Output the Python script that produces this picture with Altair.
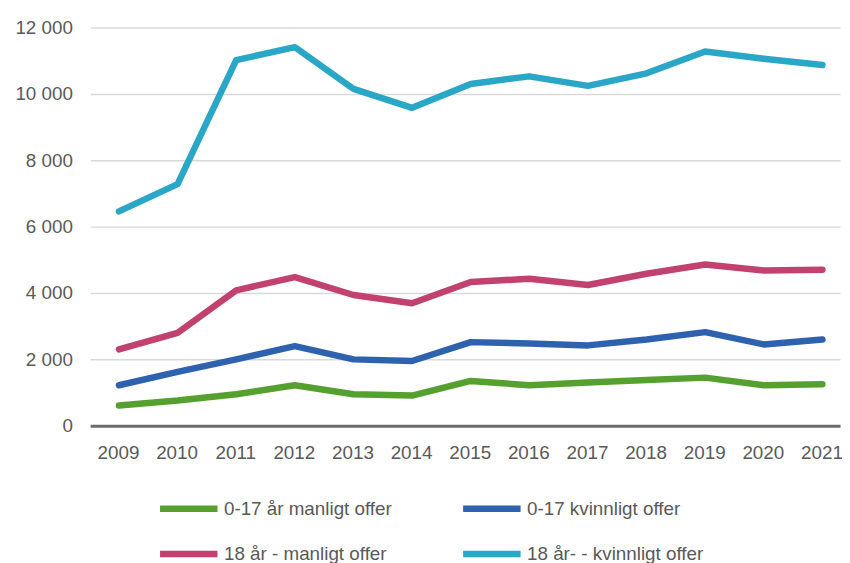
import altair as alt
import pandas as pd

years = list(range(2009, 2022))
series_names = ["0-17 år manligt offer", "0-17 kvinnligt offer",
                "18 år - manligt offer", "18 år- - kvinnligt offer"]
colors = ["#55A02F", "#2E62AE", "#C1416F", "#2AA6C6"]

green = [610, 760, 950, 1220, 950, 910, 1350, 1220, 1300, 1380, 1450, 1220, 1250]
blue = [1220, 1620, 2000, 2400, 2000, 1950, 2520, 2480, 2420, 2600, 2820, 2450, 2600]
pink = [2300, 2800, 4080, 4480, 3940, 3690, 4330, 4430, 4240, 4580, 4860, 4680, 4700]
cyan = [6460, 7280, 11020, 11410, 10150, 9580, 10300, 10530, 10240, 10620, 11280, 11060, 10870]

rows = []
for name, vals in zip(series_names, [green, blue, pink, cyan]):
    for y, v in zip(years, vals):
        rows.append({"År": y, "Antal": v, "Serie": name})
df = pd.DataFrame(rows)

chart = alt.Chart(df).mark_line(strokeWidth=6.5, strokeCap="round", strokeJoin="round").encode(
    x=alt.X("År:Q", scale=alt.Scale(domain=[2008.51, 2021.3], nice=False, zero=False),
            axis=alt.Axis(values=years, format="d", title=None, grid=False, ticks=False,
                          domainColor="#6b6b6b", domainWidth=3, labelColor="#595959",
                          labelFontSize=19, labelFont="Liberation Sans", labelPadding=18,
                          labelFlush=False, labelOffset=-1)),
    y=alt.Y("Antal:Q", scale=alt.Scale(domain=[0, 12000], nice=False),
            axis=alt.Axis(values=[0, 2000, 4000, 6000, 8000, 10000, 12000], format=",d",
                          title=None, domain=False, ticks=False, gridColor="#D9D9D9",
                          gridWidth=1.5, labelColor="#595959", labelFontSize=19,
                          labelFont="Liberation Sans", labelPadding=18,
                          labelExpr="replace(datum.label, ',', ' ')")),
    color=alt.Color("Serie:N", scale=alt.Scale(domain=series_names, range=colors),
                    legend=alt.Legend(title=None, orient="none", legendX=67, legendY=453,
                                      direction="horizontal", columns=2,
                                      symbolType="stroke", symbolSize=3364,
                                      symbolStrokeWidth=6.5, labelFontSize=19,
                                      labelFont="Liberation Sans", labelColor="#595959",
                                      labelOffset=3, rowPadding=-21, columnPadding=58,
                                      labelLimit=400)),
).properties(
    width=757, height=402,
    autosize=alt.AutoSizeParams(type="none"),
    padding={"left": 83, "top": 17, "right": 2, "bottom": 150},
).configure_view(stroke=None)

chart.save("out.html", embed_options={"renderer": "svg", "actions": False})
